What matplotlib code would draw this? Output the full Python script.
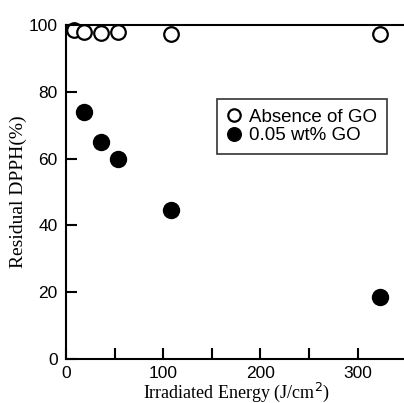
import matplotlib
matplotlib.use("Agg")
import matplotlib.pyplot as plt

energy_open = [8, 18.5, 36, 53.5, 108, 323]
dpph_open = [98.5, 98.0, 97.5, 98.0, 97.3, 97.3]
energy_filled = [18.5, 36, 53.5, 108, 323]
dpph_filled = [74.0, 65.0, 59.8, 44.6, 18.6]

xticks = [0, 50, 100, 150, 200, 250, 300, 350]
xticklabels = ["0", "", "100", "", "200", "", "300", ""]
yticks = [0, 20, 40, 60, 80, 100]

fig = plt.figure(figsize=(4.04, 4.03), dpi=100)
ax = fig.add_axes([0.163, 0.109, 0.843, 0.829])

ax.plot(energy_open, dpph_open, 'o', ms=10.5, mfc='white', mec='black', mew=1.6,
        label='Absence of GO', clip_on=False)
ax.plot(energy_filled, dpph_filled, 'o', ms=11.5, mfc='black', mec='black',
        label='0.05 wt% GO', clip_on=False)

ax.set_xlim(0, 350)
ax.set_ylim(0, 100)
ax.set_xticks(xticks)
ax.set_xticklabels(xticklabels, fontfamily='Liberation Sans', fontsize=12.5)
ax.set_yticks(yticks)
ax.set_yticklabels([str(v) for v in yticks], fontfamily='Liberation Sans', fontsize=12.5)
ax.tick_params(direction='in', length=8, width=1.5)
ax.tick_params(axis='x', pad=5)
ax.tick_params(axis='y', pad=6)
for s in ['left', 'bottom', 'top']:
    ax.spines[s].set_linewidth(1.5)
ax.spines['right'].set_visible(False)

ax.set_xlabel('Irradiated Energy (J/cm$^2$)', fontfamily='Liberation Serif', fontsize=13, labelpad=0)
ax.set_ylabel('Residual DPPH(%)', fontfamily='Liberation Serif', fontsize=14, labelpad=1)

leg = ax.legend(loc='upper left', bbox_to_anchor=(0.443, 0.778), frameon=True,
                fancybox=False, edgecolor='black', prop={'family': 'Liberation Sans', 'size': 13.5},
                handletextpad=0.42, handlelength=0.8, borderpad=0.52, labelspacing=0.05,
                borderaxespad=0, markerscale=0.85)
leg.get_frame().set_linewidth(1.2)

fig.savefig('out.png', dpi=100)
